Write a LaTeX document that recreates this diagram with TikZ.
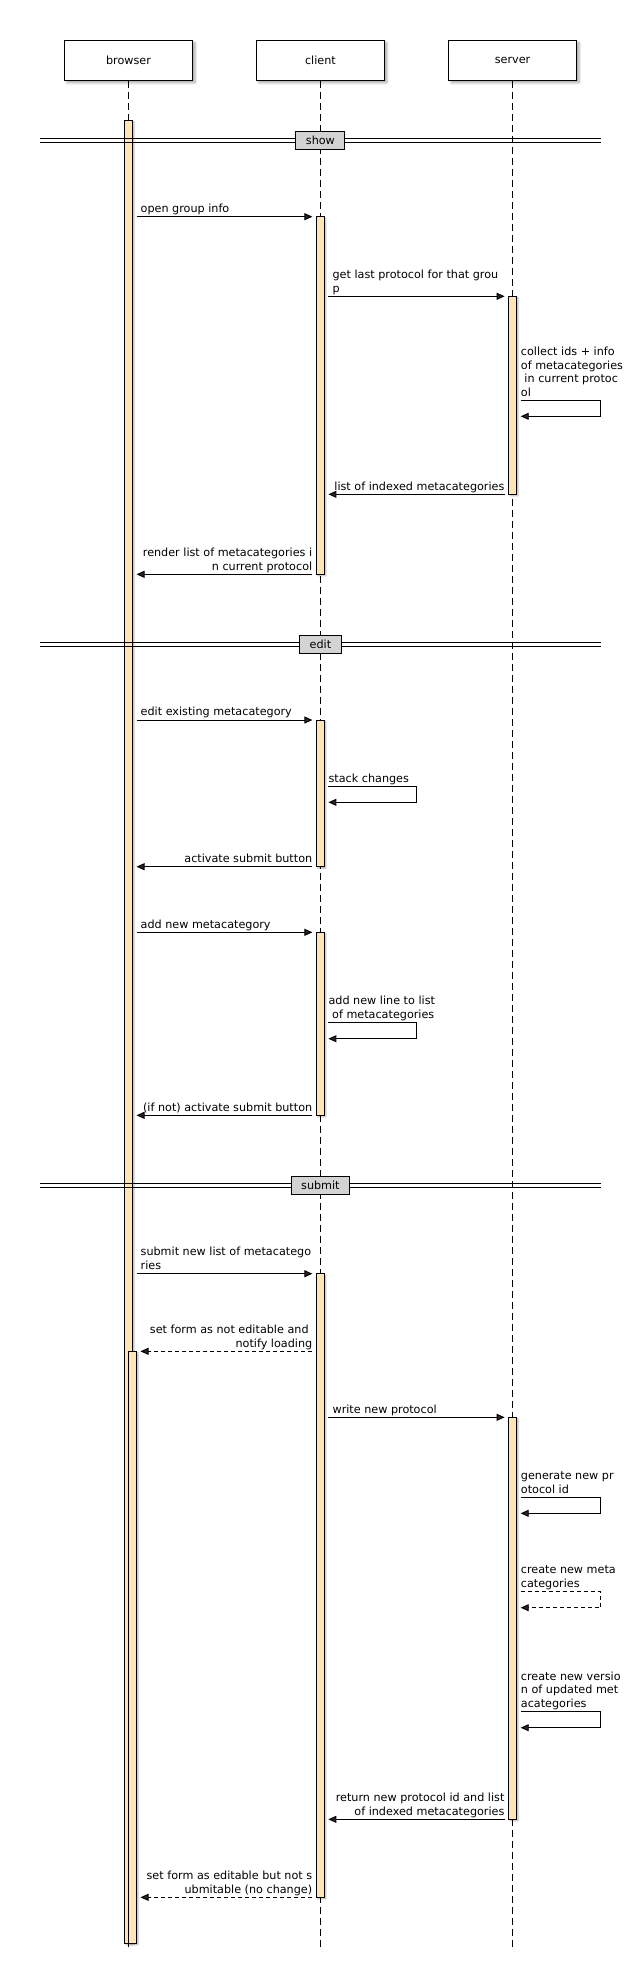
\documentclass[tikz,border=0pt]{standalone}
\usepackage{fontspec}
\setmainfont{DejaVu Sans}
\usepackage{tikz}
\usetikzlibrary{arrows.meta}
\usetikzlibrary{shadows.blur}
\definecolor{barfill}{RGB}{255,229,180}
\definecolor{sepfill}{RGB}{211,211,211}

\begin{document}
\begin{tikzpicture}[x=1pt,y=-1pt,font=\fontsize{11.2}{13.5}\selectfont]
  \tikzset{actor/.style = {shape=rectangle,draw,fill=white,line width=.9pt,minimum width=128pt,minimum height=40pt,blur shadow={shadow xshift=2.5pt,shadow yshift=-2.5pt,shadow blur radius=2.5pt,shadow opacity=35}}}
  \tikzset{bar/.style = {draw,fill=barfill,line width=.9pt,blur shadow={shadow xshift=1.5pt,shadow yshift=-1.5pt,shadow blur radius=1.5pt,shadow opacity=30}}}
  \tikzset{lifeline/.style = {line width=.9pt,dash pattern=on 7pt off 4pt}}
  \tikzset{msg/.style = {-{Triangle[length=8pt,width=7pt]},line width=.9pt}}
  \tikzset{reply/.style = {msg,dash pattern=on 4pt off 3pt}}
  \tikzset{sepline/.style = {line width=.9pt}}
  \tikzset{seplabel/.style = {draw,fill=sepfill,line width=.9pt,inner xsep=10pt,inner ysep=0pt,minimum height=18pt}}
  \tikzset{txt/.style = {inner sep=0pt,align=left,anchor=south west}}
  \useasboundingbox (0,0) rectangle (640,1971);

  \node[actor] (browser) at (128.5,60.3) {browser};
  \node[actor] (client) at (320.4,60.3) {client};
  \node[actor] (server) at (512.6,60.3) {server};

  % lifelines
  \foreach \who/\x in {browser/128.5, client/320.4, server/512.6} {
    \coordinate (\who-end) at (\x,1947.3);
    \draw[lifeline] (\who) -- (\who-end);
  }

  % activations
  \foreach \x/\top/\bot in {128.5/120.3/1943.3, 132.5/1351.3/1943.3, 320.4/216.7/574.3, 320.4/720/866.7,
      320.4/932.3/1115.3, 320.4/1273.7/1897.3, 512.6/296.3/494.3, 512.6/1417.3/1819.3}
    \draw[bar] (\x-4,\top) rectangle (\x+4,\bot);

  % separators
  \foreach \y/\name in {140.3/show, 644.7/edit, 1185.3/submit} {
    \coordinate (\name-l) at (40,\y);
    \coordinate (\name-r) at (601,\y);
    \draw[sepline] ([yshift=2pt]\name-l) -- ([yshift=2pt]\name-r);
    \draw[sepline] ([yshift=-2pt]\name-l) -- ([yshift=-2pt]\name-r);
    \node[seplabel] (\name) at (320.4,\y) {\name};
  }

  % calls
  \foreach \n/\y/\xa/\xb/\lbl in {
      1/216.7/136.5/312.4/{open group info},
      2/296.3/328.4/504.6/{get last protocol for that grou\\p},
      3/720/136.5/312.4/{edit existing metacategory},
      4/932.3/136.5/312.4/{add new metacategory},
      5/1273.7/136.5/312.4/{submit new list of metacatego\\ries},
      6/1417.3/328.4/504.6/{write new protocol}} {
    \coordinate (call\n-a) at (\xa,\y);
    \coordinate (call\n-b) at (\xb,\y);
    \draw[msg] (call\n-a) -- (call\n-b);
    \node[txt] (call\n-lbl) at ([xshift=4pt]call\n-a) {\lbl\strut};
  }

  % returns
  \foreach \n/\y/\xa/\xb/\lbl in {
      1/494.3/504.6/328.4/{list of indexed metacategories},
      2/574.3/312.4/136.5/{render list of metacategories i\\n current protocol},
      3/866.7/312.4/136.5/{activate submit button},
      4/1115.3/312.4/136.5/{(if not) activate submit button},
      5/1819.3/504.6/328.4/{return new protocol id and list\\of indexed metacategories}} {
    \coordinate (ret\n-a) at (\xa,\y);
    \coordinate (ret\n-b) at (\xb,\y);
    \draw[msg] (ret\n-a) -- (ret\n-b);
    \node[txt,anchor=south east,align=right] (ret\n-lbl) at (ret\n-a) {\lbl\strut};
  }
  \foreach \n/\y/\lbl in {
      1/1351.3/{set form as not editable and\hspace*{.32em}\\notify loading},
      2/1897.3/{set form as editable but not s\\ubmitable (no change)}} {
    \coordinate (back\n-a) at (312.4,\y);
    \coordinate (back\n-b) at (140.5,\y);
    \draw[reply] (back\n-a) -- (back\n-b);
    \node[txt,anchor=south east,align=right] (back\n-lbl) at (back\n-a) {\lbl\strut};
  }

  % self calls
  \foreach \n/\x/\w/\y/\lbl in {
      1/520.7/80/400.3/{collect ids + info\\of metacategories\\\hspace*{.32em}in current protoc\\ol},
      2/328.4/87.7/786.3/{stack changes},
      3/328.4/87.7/1022.7/{add new line to list\\\hspace*{.32em}of metacategories},
      4/520.7/80/1497.3/{generate new pr\\otocol id},
      6/520.7/80/1711.7/{create new versio\\n of updated met\\acategories}} {
    \coordinate (self\n-a) at (\x,\y);
    \coordinate (self\n-b) at (\x,\y+16);
    \draw[msg] (self\n-a) -- ++(\w,0) -- ++(0,16) -- (self\n-b);
    \node[txt] (self\n-lbl) at (self\n-a) {\lbl\strut};
  }
  \coordinate (self5-a) at (520.7,1591.7);
  \coordinate (self5-b) at (520.7,1607.7);
  \draw[reply] (self5-a) -- ++(80,0) -- ++(0,16) -- (self5-b);
  \node[txt] (self5-lbl) at (self5-a) {create new meta\\categories\strut};

\end{tikzpicture}
\end{document}
